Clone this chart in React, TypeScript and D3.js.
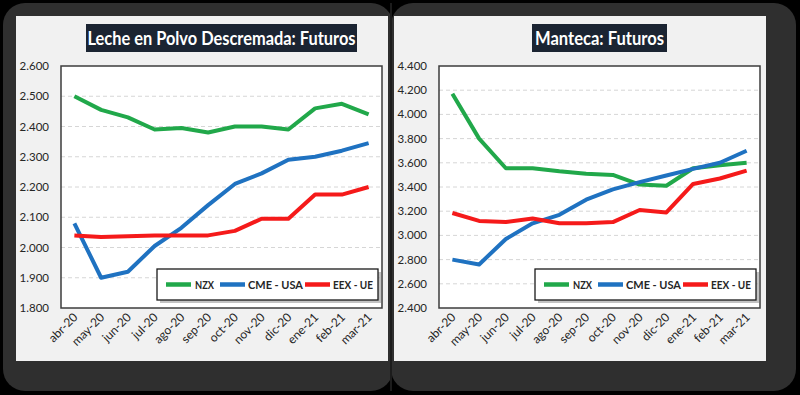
import React from "react";
import * as d3 from "d3";

const months = ["abr-20", "may-20", "jun-20", "jul-20", "ago-20", "sep-20", "oct-20", "nov-20", "dic-20", "ene-21", "feb-21", "mar-21"];

// Leche en Polvo Descremada
const lecheNZX = [2500, 2455, 2430, 2390, 2395, 2380, 2400, 2400, 2390, 2460, 2475, 2440];
const lecheCME = [2080, 1900, 1920, 2005, 2065, 2140, 2210, 2245, 2290, 2300, 2320, 2345];
const lecheEEX = [2040, 2035, 2037, 2040, 2040, 2040, 2055, 2095, 2095, 2175, 2175, 2200];
const lecheTicks = [1800, 1900, 2000, 2100, 2200, 2300, 2400, 2500, 2600];

// Manteca
const mantecaNZX = [4170, 3800, 3555, 3555, 3530, 3510, 3500, 3420, 3410, 3555, 3580, 3600];
const mantecaCME = [2800, 2760, 2970, 3100, 3170, 3295, 3380, 3440, 3495, 3550, 3600, 3700];
const mantecaEEX = [3185, 3120, 3110, 3140, 3100, 3100, 3110, 3210, 3190, 3425, 3470, 3535];
const mantecaTicks = [2400, 2600, 2800, 3000, 3200, 3400, 3600, 3800, 4000, 4200, 4400];

const seriesNames = ["NZX", "CME - USA", "EEX - UE"];
const colors = ["#21a84a", "#1f72c1", "#f51a1a"];

const font = "Lato, 'Open Sans', sans-serif";
const fmt = (v: number) => d3.format(",")(v).replace(/,/g, ".");

function Panel({ ox, title, titleW, textW, data, ticks, plotL, plotR }) {
  const top = 66, bottom = 308;
  const x = d3.scalePoint().domain(months).range([plotL, plotR]).padding(0.5);
  const y = d3.scaleLinear().domain([ticks[0], ticks[ticks.length - 1]]).range([bottom, top]);
  const line = d3.line<number>().x((d, i) => x(months[i])!).y(d => y(d));
  const center = (plotL + plotR) / 2;
  const legX = plotR - 225, legY = 269;
  return (
    <g>
      <rect x={ox} y={16} width={372} height={345} fill="#f1f1f1" />
      <rect x={center - titleW / 2} y={24} width={titleW} height={28} fill="#1b2432" />
      <text x={center} y={44.5} textAnchor="middle" fill="#fff" fontFamily={font} fontWeight="bold" fontSize={18}
        textLength={textW} lengthAdjust="spacingAndGlyphs">{title}</text>
      <rect x={plotL} y={top} width={plotR - plotL} height={bottom - top} fill="#fff" />
      {ticks.slice(1, -1).map(t => (
        <line key={t} x1={plotL} x2={plotR} y1={y(t)} y2={y(t)} stroke="#d6d6d6" strokeDasharray="4,3" />
      ))}
      {ticks.map(t => (
        <text key={t} x={plotL - 12} y={y(t) + 4} textAnchor="end" fontFamily={font} fontSize={11.5} fill="#262626">{fmt(t)}</text>
      ))}
      {months.map(m => (
        <text key={m} transform={`translate(${x(m)! + 4},${bottom + 10}) rotate(-45)`} textAnchor="end" fontFamily={font} fontSize={12} fill="#262626">{m}</text>
      ))}
      {data.map((s, i) => (
        <path key={i} d={line(s)!} fill="none" stroke={colors[i]} strokeWidth={4} strokeLinejoin="round" />
      ))}
      <rect x={plotL} y={top} width={plotR - plotL} height={bottom - top} fill="none" stroke="#3c3c3c" strokeWidth={1.5} />
      <rect x={legX + 3} y={legY + 3} width={221} height={31} fill="#9a9a9a" opacity={0.6} />
      <rect x={legX} y={legY} width={221} height={31} fill="#fff" stroke="#1a1a1a" strokeWidth={1.3} />
      {[
        [9, 38, 19],
        [63, 91, 55],
        [148, 176, 40],
      ].map(([a, tx, tw], i) => (
        <g key={i}>
          <line x1={legX + a} x2={legX + a + 25} y1={legY + 15.5} y2={legY + 15.5} stroke={colors[i]} strokeWidth={4.5} />
          <text x={legX + tx} y={legY + 19.5} fontFamily={font} fontWeight="bold" fontSize={11.5} fill="#262626"
            textLength={tw} lengthAdjust="spacingAndGlyphs">{seriesNames[i]}</text>
        </g>
      ))}
    </g>
  );
}

export default function App() {
  return (
    <svg width={800} height={395} style={{ position: "absolute", left: 0, top: 0, background: "#000" }}>
      <rect x={0} y={0} width={800} height={395} fill="#000" />
      <rect x={3} y={3} width={390} height={388} rx={22} fill="#2f2f2f" />
      <rect x={391} y={3} width={405} height={388} rx={22} fill="#2f2f2f" />
      <line x1={391} x2={391} y1={3} y2={391} stroke="#1c1c1c" strokeWidth={2} />
      <Panel ox={16} title="Leche en Polvo Descremada: Futuros" titleW={271} textW={268} data={[lecheNZX, lecheCME, lecheEEX]} ticks={lecheTicks} plotL={61} plotR={382} />
      <Panel ox={394} title="Manteca: Futuros" titleW={135} textW={129} data={[mantecaNZX, mantecaCME, mantecaEEX]} ticks={mantecaTicks} plotL={439} plotR={760} />
    </svg>
  );
}
